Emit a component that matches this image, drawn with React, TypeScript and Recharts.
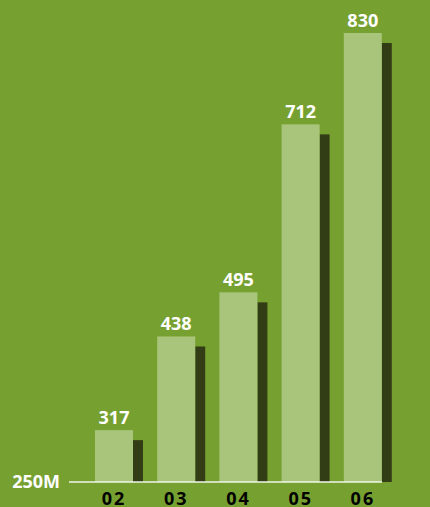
import { Bar, BarChart, LabelList, ReferenceLine, XAxis, YAxis } from "recharts";

const years = ["02", "03", "04", "05", "06"];
const revenue = [317, 438, 495, 712, 830];
const baseValue = 250;

const data = years.map((year, i) => ({ year, value: revenue[i] }));

const BG = "#76a131";
const BAR = "#a9c57b";
const SHADOW = "#333d15";

const ShadowBar = (props: any) => {
	const { x, y, width, height } = props;
	return (
		<g>
			<rect x={x + width} y={y + 10} width={10} height={height - 9} fill={SHADOW} />
			<rect x={x} y={y} width={width} height={height} fill={BAR} />
		</g>
	);
};

const Baseline = (props: any) => {
	const { x1, y1, x2, y2 } = props;
	return <line x1={x1 - 14} y1={y1} x2={x2 - 12} y2={y2} stroke="#f0f4ea" strokeWidth={1.5} />;
};

export default function App() {
	return (
		<div
			style={{
				position: "absolute",
				left: 0,
				top: 0,
				width: 430,
				height: 507,
				background: BG,
				fontFamily: "'Open Sans', sans-serif",
			}}
		>
			<BarChart
				width={430}
				height={507}
				data={data}
				margin={{ top: 33, right: 36, left: 0, bottom: 0 }}
			>
				<XAxis
					dataKey="year"
					height={25}
					axisLine={false}
					tickLine={false}
					tickSize={0}
					tickMargin={10}
					tick={{ fill: "#000", fontSize: 18, fontWeight: 700, letterSpacing: 2 }}
				/>
				<YAxis
					width={83}
					domain={[baseValue, 830]}
					ticks={[baseValue]}
					allowDataOverflow
					axisLine={false}
					tickLine={false}
					tickSize={0}
					tickMargin={23}
					tickFormatter={(v) => `${v}M`}
					tick={{ fill: "#fff", fontSize: 18, fontWeight: 700 }}
				/>
				<ReferenceLine y={baseValue} shape={Baseline} />
				<Bar dataKey="value" barSize={38} shape={ShadowBar} isAnimationActive={false}>
					<LabelList
						dataKey="value"
						position="top"
						offset={6}
						fill="#fff"
						fontSize={18}
						fontWeight={700}
					/>
				</Bar>
			</BarChart>
		</div>
	);
}
